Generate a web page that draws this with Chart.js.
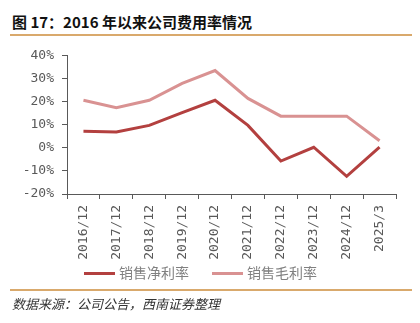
<!DOCTYPE html>
<html lang="zh">
<head>
  <meta charset="UTF-8">
  <title>2016年以来公司费用率情况</title>
  <style>
    body { margin: 0; width: 420px; height: 323px; background: #fff; position: relative; overflow: hidden; font-family: "Noto Sans CJK SC", sans-serif; }
    .title { position: absolute; left: 12px; top: 11px; font-size: 15px; font-weight: bold; color: #111; white-space: nowrap; }
    .rule { position: absolute; left: 10px; width: 402px; height: 2px; background: #d9a96c; }
    .src { position: absolute; left: 12px; top: 294px; font-size: 13px; font-style: italic; color: #333; white-space: nowrap; }
    #box { position: absolute; left: 0; top: 40px; width: 420px; height: 248px; }
    .key { position: absolute; top: 262px; height: 20px; line-height: 20px; font-size: 14px; color: #808080; white-space: nowrap; }
    .key i { display: inline-block; width: 31px; height: 3px; vertical-align: middle; margin-right: 4px; position: relative; top: -1px; }
  </style>
</head>
<body>
  <div class="title">图 17：2016 年以来公司费用率情况</div>
  <div class="rule" style="top:34px"></div>
  <div id="box"><canvas id="chart"></canvas></div>
  <div id="legend"></div>
  <div class="rule" style="top:289px"></div>
  <div class="src">数据来源：公司公告，西南证券整理</div>

  <script src="https://cdn.jsdelivr.net/npm/chart.js"></script>
  <script>
    const labels = ['2016/12', '2017/12', '2018/12', '2019/12', '2020/12', '2021/12', '2022/12', '2023/12', '2024/12', '2025/3'];
    const netMargin = [7.2, 6.9, 9.8, 15.3, 20.7, 9.8, -5.7, 0.3, -12.3, 0.3];
    const grossMargin = [20.7, 17.5, 20.7, 28.0, 33.6, 21.5, 13.8, 13.8, 13.8, 3.1];

    const axisColor = '#595959';
    const monoFont = { family: 'DejaVu Sans Mono', size: 13 };

    const chart = new Chart(document.getElementById('chart'), {
      type: 'line',
      data: {
        labels: labels,
        datasets: [
          { label: '销售净利率', data: netMargin, borderColor: '#b3403f', backgroundColor: '#b3403f', borderWidth: 3, pointRadius: 0, tension: 0 },
          { label: '销售毛利率', data: grossMargin, borderColor: '#d99292', backgroundColor: '#d99292', borderWidth: 3, pointRadius: 0, tension: 0 }
        ]
      },
      options: {
        responsive: true,
        maintainAspectRatio: false,
        animation: false,
        layout: { padding: { left: 0, right: 24, top: 10, bottom: 28 } },
        plugins: { tooltip: { enabled: false }, legend: { display: false } },
        scales: {
          x: {
            offset: true,
            grid: { offset: true, drawOnChartArea: false, tickLength: 5, color: axisColor },
            border: { color: axisColor },
            ticks: { color: axisColor, font: monoFont, minRotation: 90, maxRotation: 90, padding: 6 },
            afterFit: s => { s.height = 66; }
          },
          y: {
            min: -20, max: 40,
            grid: { drawOnChartArea: false, tickLength: 5, color: axisColor },
            border: { color: axisColor },
            ticks: { stepSize: 10, color: axisColor, font: monoFont, padding: 8, callback: v => v + '%' },
            afterFit: s => { s.width = 67; }
          }
        }
      }
    });

    // legende html, positions comme sur l'image
    const keyX = [84, 212];
    document.getElementById('legend').innerHTML = chart.data.datasets.map((d, i) =>
      `<div class="key" style="left:${keyX[i]}px"><i style="background:${d.borderColor}"></i>${d.label}</div>`
    ).join('');
  </script>
</body>
</html>
